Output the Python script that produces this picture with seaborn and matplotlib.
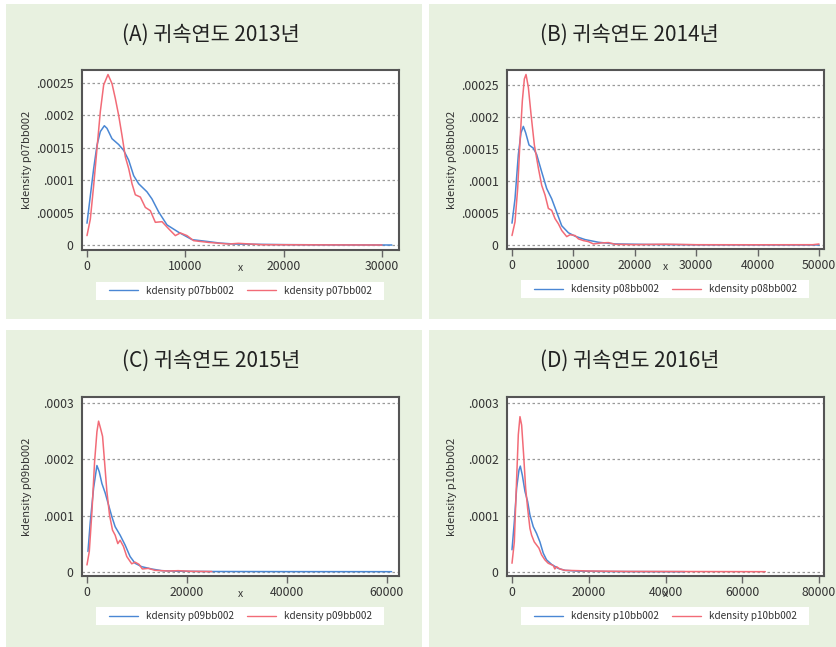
import matplotlib
matplotlib.use("Agg")
import matplotlib.pyplot as plt
from matplotlib.patches import Rectangle
import seaborn as sns

# densidades (valores de y en unidades de 1e-6)
a_blue_x = [0, 340, 680, 1017, 1356, 1763, 2034, 2543, 3221, 3729, 4238, 4746, 5255, 6102,
            6611, 7289, 8136, 9323, 10680, 12370, 13500, 15000, 20000, 25000, 31000]
a_blue_y = [33.6, 76, 118, 154, 175, 184, 180, 164, 155, 146, 131, 107, 94.5, 82,
            71, 51, 31, 19.6, 8.3, 5.2, 3, 1.5, 0.6, 0.2, 0]
a_red_x = [0, 340, 680, 1017, 1356, 1695, 2136, 2543, 2882, 3221, 3560, 3899, 4238, 4577,
           4916, 5424, 5932, 6441, 6950, 7628, 8306, 8984, 9492, 10170, 10848, 12370,
           14400, 15400, 17800, 22000, 30000]
a_red_y = [14.5, 40, 92, 149, 206, 247, 263, 249, 226, 200, 169, 136, 118, 94.5,
           77.5, 74, 58, 53, 35, 36, 25, 14.5, 18.6, 14.5, 6.7, 4,
           1.5, 2.6, 0.5, 0.3, 0]

b_blue_x = [0, 489, 1033, 1467, 1848, 2228, 2772, 3478, 4022, 4837, 5652, 6468, 7283, 8098,
            9185, 10272, 11900, 14077, 16800, 22000, 30000, 50000]
b_blue_y = [34, 72, 141, 175, 185, 175, 156, 151, 141, 114, 88, 72, 51, 30,
            19, 13.7, 8.4, 4.2, 1.6, 0.8, 0.3, 0]
b_red_x = [0, 489, 924, 1304, 1685, 2011, 2283, 2663, 3098, 3641, 4294, 4837, 5380, 5924,
           6468, 7011, 7555, 8098, 8913, 9457, 10272, 10815, 11630, 12446, 13261, 14620,
           15707, 16800, 20000, 25000, 30000, 40000, 49000, 50000]
b_red_y = [14.7, 36, 88, 162, 225, 259, 266, 246, 204, 156, 120, 93, 78, 57,
           54, 41, 33, 22.6, 13, 16, 14.7, 9.5, 6.8, 5.2, 1.6, 3.2,
           3.7, 1, 0.5, 1.2, 0.4, 0.3, 0.4, 1.5]

c_blue_x = [200, 664, 1328, 1992, 2457, 2988, 3652, 4316, 4980, 5644, 6640, 7636, 8632, 9628,
            10956, 12948, 14940, 18000, 25000, 40000, 61000]
c_blue_y = [36, 89, 149, 189, 178, 157, 140, 119, 98, 80, 65, 47.5, 27, 15,
            8.9, 4.8, 1.8, 0.8, 0.3, 0.1, 0]
c_red_x = [0, 465, 996, 1527, 1992, 2324, 2722, 3121, 3519, 3984, 4515, 5113, 5644, 6175,
           6640, 7304, 7968, 8964, 9628, 10425, 11089, 12284, 13612, 16268, 18260, 20916, 25000]
c_red_y = [12, 36, 107, 196, 249, 268, 255, 241, 196, 143, 101, 74, 65, 50,
           56, 45, 27, 14, 17, 13, 4.8, 5.9, 2.4, 1.2, 1.8, 0.6, 0.2]

d_blue_x = [0, 606, 1212, 1819, 2165, 2685, 3377, 4070, 4676, 5542, 6408, 7274, 8140, 9006,
            10305, 12037, 13769, 17000, 25000, 45000]
d_blue_y = [39, 89, 149, 181, 188, 172, 143, 125, 101, 80, 68, 53, 33, 21,
            13, 5.9, 2.4, 1.0, 0.3, 0]
d_red_x = [0, 606, 1212, 1645, 2078, 2511, 3031, 3551, 4070, 4676, 5109, 5802, 6408, 7015,
           7707, 8573, 9439, 10738, 11171, 11604, 12470, 13769, 17233, 19831, 30000, 50000, 66000]
d_red_y = [15, 53, 166, 244, 276, 261, 208, 149, 113, 77, 65, 53, 47.5, 42,
           30, 21, 15, 11, 4.8, 8.9, 4.8, 2.4, 1.8, 1.2, 0.4, 0.2, 0]

titles = ["(A) 귀속연도 2013년", "(B) 귀속연도 2014년", "(C) 귀속연도 2015년", "(D) 귀속연도 2016년"]
var_names = ["p07bb002", "p08bb002", "p09bb002", "p10bb002"]

x_ticks = [[0, 10000, 20000, 30000],
           [0, 10000, 20000, 30000, 40000, 50000],
           [0, 20000, 40000, 60000],
           [0, 20000, 40000, 60000, 80000]]
y_ticks = [[0, 5e-5, 1e-4, 1.5e-4, 2e-4, 2.5e-4],
           [0, 5e-5, 1e-4, 1.5e-4, 2e-4, 2.5e-4],
           [0, 1e-4, 2e-4, 3e-4],
           [0, 1e-4, 2e-4, 3e-4]]
y_tick_labels = [["0", ".00005", ".0001", ".00015", ".0002", ".00025"],
                 ["0", ".00005", ".0001", ".00015", ".0002", ".00025"],
                 ["0", ".0001", ".0002", ".0003"],
                 ["0", ".0001", ".0002", ".0003"]]

series = [(a_blue_x, a_blue_y, a_red_x, a_red_y),
          (b_blue_x, b_blue_y, b_red_x, b_red_y),
          (c_blue_x, c_blue_y, c_red_x, c_red_y),
          (d_blue_x, d_blue_y, d_red_x, d_red_y)]

sns.set_style("white")
plt.rcParams["font.family"] = ["Noto Sans CJK KR", "DejaVu Sans"]

W, H = 836, 647
fig = plt.figure(figsize=(W / 100, H / 100), dpi=100, facecolor="white")

blue = "#4a87d4"
red = "#f26b77"
green_bg = "#e8f1e0"

# paneles verdes (en pixeles: x0, y0, x1, y1)
panels = [(6, 4, 422, 319), (429, 4, 836, 319), (6, 330, 422, 647), (429, 330, 836, 647)]
# areas de graficos (pixeles)
axes_px = [(82, 70, 399, 250), (507, 70, 824, 249), (82, 397, 399, 576), (507, 397, 824, 576)]
xlims = [(-508, 31729), (-814, 50814), (-996, 62490), (-1303, 81303)]
ylims = [(-7.7e-6, 2.70e-4), (-6.3e-6, 2.73e-4), (-7.7e-6, 3.11e-4), (-7.7e-6, 3.11e-4)]

for i in range(4):
    px0, py0, px1, py1 = panels[i]
    fig.patches.append(Rectangle((px0 / W, 1 - py1 / H), (px1 - px0) / W, (py1 - py0) / H,
                                 transform=fig.transFigure, facecolor=green_bg,
                                 edgecolor="none", zorder=-5))
    cx = (px0 + px1) / 2
    fig.text((cx - 3) / W, 1 - (py0 + 31) / H, titles[i], ha="center", va="center",
             fontsize=15, color="#222222")

    ax0, ay0, ax1, ay1 = axes_px[i]
    ax = fig.add_axes([ax0 / W, 1 - ay1 / H, (ax1 - ax0) / W, (ay1 - ay0) / H])
    ax.set_facecolor("white")

    bx, by, rx, ry = series[i]
    label = "kdensity " + var_names[i]
    sns.lineplot(x=bx, y=[v / 1e6 for v in by], ax=ax, color=blue, linewidth=1.1, label=label)
    sns.lineplot(x=rx, y=[v / 1e6 for v in ry], ax=ax, color=red, linewidth=1.1, label=label)

    ax.set_xlim(*xlims[i])
    ax.set_ylim(*ylims[i])
    ax.set_xticks(x_ticks[i])
    ax.set_xticklabels([str(t) for t in x_ticks[i]])
    ax.set_yticks(y_ticks[i])
    ax.set_yticklabels(y_tick_labels[i])
    ax.tick_params(axis="x", length=5, width=1, color="#666666", pad=2,
                   labelsize=8.8, labelcolor="#333333", bottom=True)
    ax.tick_params(axis="y", length=0, pad=6, labelsize=8.8, labelcolor="#333333")
    for yt in y_ticks[i]:
        ax.axhline(yt, color="#9a9a9a", linestyle=(0, (2, 2)), linewidth=0.9, zorder=0)
    for sp in ax.spines.values():
        sp.set_color("#555555")
        sp.set_linewidth(1.5)

    ax.set_ylabel("kdensity " + var_names[i], fontsize=8.0, color="#333333")
    ax.yaxis.set_label_coords(-0.158, 0.5)
    ax.set_xlabel("x", fontsize=7.5, color="#333333")
    ax.xaxis.set_label_coords(0.5, -0.07)

    # caja de leyenda blanca
    ax.add_patch(Rectangle((0.045, -0.275), 0.909, 0.1, transform=ax.transAxes,
                           facecolor="white", edgecolor="none", clip_on=False, zorder=3))
    leg = ax.legend(loc="center", bbox_to_anchor=(0.5, -0.225), ncol=2, frameon=False,
                    fontsize=7.2, handlelength=2.9, handletextpad=0.8, columnspacing=1.3,
                    labelcolor="#333333")
    leg.set_zorder(4)
    for ln in leg.get_lines():
        ln.set_linewidth(1.0)

fig.savefig("out.png", dpi=100, facecolor="white")
